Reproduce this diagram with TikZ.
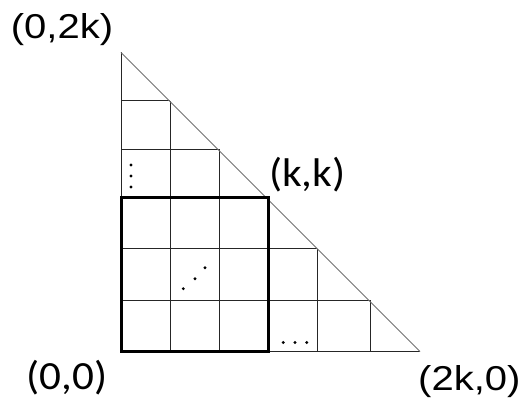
\documentclass[tikz,border=0pt]{standalone}
\usepackage{fontspec}
\setmainfont{Liberation Sans}
\newfontfamily\calibfont{Carlito}
\begin{document}
\begin{tikzpicture}[x=1pt,y=-1pt,
  gridline/.style={line width=1pt,black!85},
  thickbox/.style={line width=3pt,black,line cap=rect},
  hyp/.style={line width=0.9pt,black!55},
  dotmark/.style={fill=black,draw=none},
  arlabel/.style={font=\fontsize{34.5}{40}\selectfont,anchor=base west,inner sep=0pt},
  cblabel/.style={font=\calibfont\fontsize{40}{46}\selectfont,anchor=base west,inner sep=0pt}]
\useasboundingbox (0,0) rectangle (525,398);
% grid coordinates
\coordinate (A00) at (121,351.5);
\coordinate (A10) at (170,351.5);
\coordinate (A20) at (219,351.5);
\coordinate (A30) at (268,351.5);
\coordinate (A40) at (317,351.5);
\coordinate (A50) at (370,351.5);
\coordinate (A60) at (420,351.5);
\coordinate (A01) at (121,300);
\coordinate (A51) at (370,300);
\coordinate (A02) at (121,249);
\coordinate (A42) at (317,249);
\coordinate (A03) at (121,198);
\coordinate (A33) at (268,198);
\coordinate (A04) at (121,149.5);
\coordinate (A24) at (219,149.5);
\coordinate (A05) at (121,101);
\coordinate (A15) at (170,101);
\coordinate (A06) at (121,52.5);
% thin grid
\draw[gridline] (A01) -- (A51);
\draw[gridline] (A02) -- (A42);
\draw[gridline] (A04) -- (A24);
\draw[gridline] (A05) -- (A15);
\draw[gridline] (A00) -- (A60);
\draw[gridline] (A00) -- (A06);
\draw[gridline] (A10) -- (A15);
\draw[gridline] (A20) -- (A24);
\draw[gridline] (A40) -- (A42);
\draw[gridline] (A50) -- (A51);
% hypotenuse
\draw[hyp] (A06) -- (A60);
% thick square
\draw[thickbox] (A00) rectangle (A33);
% dots
\fill[dotmark] (131,165) circle (1.6);
\fill[dotmark] (131,176) circle (1.6);
\fill[dotmark] (131,187) circle (1.6);
\fill[dotmark] (183.3,288.7) circle (1.6);
\fill[dotmark] (195,278.7) circle (1.6);
\fill[dotmark] (205,267.7) circle (1.6);
\fill[dotmark] (283.3,342.5) circle (1.6);
\fill[dotmark] (295,342.5) circle (1.6);
\fill[dotmark] (306.7,342.5) circle (1.6);
% labels
\node[arlabel] (ltop) at (10.7,38.3) {\scalebox{1.16}[1]{(0,2k)}};
\node[cblabel] (lkk) at (269,186.7) {\scalebox{1.08}[1]{(k,k)}};
\node[cblabel] (lorig) at (26.3,389.5) {\scalebox{1.08}[1]{(0,0)}};
\node[arlabel] (lright) at (418,390) {\scalebox{1.16}[1]{(2k,0)}};
\end{tikzpicture}
\end{document}
